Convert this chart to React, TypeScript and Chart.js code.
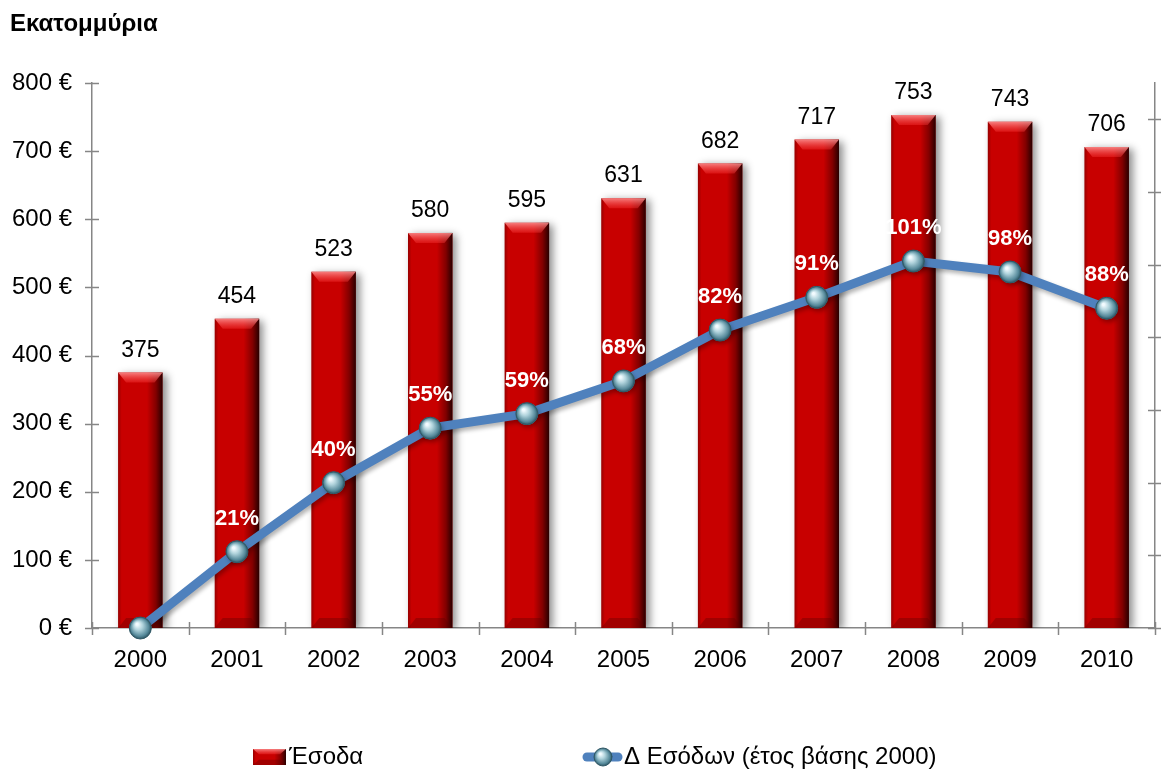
import React, { useEffect, useRef } from "react";
import { Chart, registerables } from "chart.js";

Chart.register(...registerables);

const years = ["2000", "2001", "2002", "2003", "2004", "2005", "2006", "2007", "2008", "2009", "2010"];
const revenue = [375, 454, 523, 580, 595, 631, 682, 717, 753, 743, 706];
const growthPct = [0, 21, 40, 55, 59, 68, 82, 91, 101, 98, 88];
const leftTicks = [0, 100, 200, 300, 400, 500, 600, 700, 800];
const titleText = "Εκατομμύρια";
const barLabel = "Έσοδα";
const lineLabel = "Δ Εσόδων (έτος βάσης 2000)";

const FONT = "'Liberation Sans', Arial, sans-serif";
const AXIS = "#868686";

function drawSphere(ctx: CanvasRenderingContext2D, x: number, y: number, r: number) {
  const g = ctx.createRadialGradient(x - r * 0.3, y - r * 0.35, r * 0.1, x, y, r);
  g.addColorStop(0, "#f2fbff");
  g.addColorStop(0.35, "#b0d3dc");
  g.addColorStop(0.8, "#55899a");
  g.addColorStop(1, "#2b5361");
  ctx.beginPath();
  ctx.arc(x, y, r, 0, Math.PI * 2);
  ctx.fillStyle = g;
  ctx.fill();
  ctx.lineWidth = 1;
  ctx.strokeStyle = "#2f5866";
  ctx.stroke();
}

function drawBarShape(ctx: CanvasRenderingContext2D, left: number, right: number, top: number, bottom: number) {
  const w = right - left;
  const g = ctx.createLinearGradient(left, 0, right, 0);
  g.addColorStop(0, "rgba(0,0,0,0.25)");
  g.addColorStop(0.08, "rgba(0,0,0,0)");
  g.addColorStop(0.65, "rgba(0,0,0,0)");
  g.addColorStop(0.85, "rgba(0,0,0,0.35)");
  g.addColorStop(1, "rgba(0,0,0,0.8)");
  ctx.fillStyle = g;
  ctx.fillRect(left, top, w, bottom - top);
  const bev = Math.min(10, (bottom - top) / 3);
  const inset = w * 0.18;
  ctx.beginPath();
  ctx.moveTo(left, top);
  ctx.lineTo(right, top);
  ctx.lineTo(right - inset, top + bev);
  ctx.lineTo(left + inset, top + bev);
  ctx.closePath();
  const tg = ctx.createLinearGradient(0, top, 0, top + bev);
  tg.addColorStop(0, "rgba(255,150,150,0.85)");
  tg.addColorStop(1, "rgba(255,60,60,0.35)");
  ctx.fillStyle = tg;
  ctx.fill();
  ctx.beginPath();
  ctx.moveTo(left, bottom);
  ctx.lineTo(right, bottom);
  ctx.lineTo(right - inset, bottom - bev);
  ctx.lineTo(left + inset, bottom - bev);
  ctx.closePath();
  ctx.fillStyle = "rgba(90,0,0,0.35)";
  ctx.fill();
}

const decorPlugin = {
  id: "decor",
  beforeDatasetDraw(chart: any, args: any) {
    const ctx = chart.ctx;
    ctx.save();
    if (args.index === 0) {
      ctx.shadowColor = "rgba(0,0,0,0.45)";
      ctx.shadowBlur = 8;
      ctx.shadowOffsetX = 4;
      ctx.shadowOffsetY = 2;
    } else {
      ctx.shadowColor = "rgba(0,0,0,0.3)";
      ctx.shadowBlur = 4;
      ctx.shadowOffsetX = 2;
      ctx.shadowOffsetY = 3;
    }
  },
  afterDatasetDraw(chart: any, args: any) {
    const ctx = chart.ctx;
    ctx.restore();
    ctx.save();
    if (args.index === 0) {
      args.meta.data.forEach((el: any) => {
        const p = el.getProps(["x", "y", "base", "width"], true);
        drawBarShape(ctx, p.x - p.width / 2, p.x + p.width / 2, p.y, p.base);
      });
    } else {
      args.meta.data.forEach((el: any) => {
        const p = el.getProps(["x", "y"], true);
        drawSphere(ctx, p.x, p.y, 11);
      });
    }
    ctx.restore();
  },
  afterDraw(chart: any) {
    const ctx = chart.ctx;
    const area = chart.chartArea;
    const ys = chart.scales.y;
    const y1 = chart.scales.y1;
    const xs = chart.scales.x;
    ctx.save();
    ctx.strokeStyle = AXIS;
    ctx.lineWidth = 1.5;
    ys.ticks.forEach((t: any) => {
      const py = Math.round(ys.getPixelForValue(t.value)) + 0.5;
      ctx.beginPath();
      ctx.moveTo(area.left - 7, py);
      ctx.lineTo(area.left + 7, py);
      ctx.stroke();
    });
    y1.ticks.forEach((t: any) => {
      if (t.value % 20 !== 0) return;
      const py = Math.round(y1.getPixelForValue(t.value)) + 0.5;
      ctx.beginPath();
      ctx.moveTo(area.right - 7, py);
      ctx.lineTo(area.right + 6, py);
      ctx.stroke();
    });
    const n = years.length;
    for (let i = 0; i <= n; i++) {
      let px: number;
      if (i === 0) px = xs.getPixelForValue(0) - (xs.getPixelForValue(1) - xs.getPixelForValue(0)) / 2;
      else if (i === n) px = xs.getPixelForValue(n - 1) + (xs.getPixelForValue(n - 1) - xs.getPixelForValue(n - 2)) / 2;
      else px = (xs.getPixelForValue(i - 1) + xs.getPixelForValue(i)) / 2;
      px = Math.round(px) + 0.5;
      ctx.beginPath();
      ctx.moveTo(px, area.bottom - 6);
      ctx.lineTo(px, area.bottom + 7);
      ctx.stroke();
    }

    const barMeta = chart.getDatasetMeta(0);
    ctx.fillStyle = "#000";
    ctx.font = `23px ${FONT}`;
    ctx.textAlign = "center";
    ctx.textBaseline = "middle";
    barMeta.data.forEach((el: any, i: number) => {
      const p = el.getProps(["x", "y"], true);
      ctx.fillText(String(revenue[i]), p.x, p.y - 22);
    });
    const lineMeta = chart.getDatasetMeta(1);
    ctx.fillStyle = "#fff";
    ctx.font = `bold 22px ${FONT}`;
    lineMeta.data.forEach((el: any, i: number) => {
      if (growthPct[i] === 0) return;
      const p = el.getProps(["x", "y"], true);
      ctx.fillText(`${growthPct[i]}%`, p.x, p.y - 33);
    });

    ctx.fillStyle = "#000";
    ctx.font = `bold 24px ${FONT}`;
    ctx.textAlign = "left";
    ctx.fillText(titleText, 10, 24);

    const ly = 757;
    ctx.save();
    ctx.fillStyle = "#c80000";
    ctx.fillRect(253, ly - 8, 33, 16);
    drawBarShape(ctx, 253, 286, ly - 8, ly + 8);
    ctx.restore();
    ctx.fillStyle = "#000";
    ctx.font = `24px ${FONT}`;
    ctx.textAlign = "left";
    ctx.fillText(barLabel, 289, ly);

    ctx.strokeStyle = "#4f81bd";
    ctx.lineWidth = 9;
    ctx.lineCap = "round";
    ctx.beginPath();
    ctx.moveTo(587, ly);
    ctx.lineTo(618, ly);
    ctx.stroke();
    drawSphere(ctx, 603, ly, 9);
    ctx.fillStyle = "#000";
    ctx.fillText(lineLabel, 624, ly);
    ctx.restore();
  },
};

export default function App() {
  const canvasRef = useRef<HTMLCanvasElement | null>(null);

  useEffect(() => {
    document.body.style.margin = "0";
    const canvas = canvasRef.current;
    if (!canvas) return;
    const chart = new Chart(canvas, {
      data: {
        labels: years,
        datasets: [
          {
            type: "bar",
            label: barLabel,
            data: revenue,
            backgroundColor: "#c80000",
            borderWidth: 0,
            categoryPercentage: 1,
            barPercentage: 0.46,
            yAxisID: "y",
            order: 1,
          },
          {
            type: "line",
            label: lineLabel,
            data: growthPct,
            borderColor: "#4f81bd",
            borderWidth: 9,
            tension: 0,
            pointRadius: 11,
            pointBackgroundColor: "#8fbccb",
            pointBorderWidth: 0,
            yAxisID: "y1",
            order: 0,
          },
        ],
      } as any,
      options: {
        animation: false,
        responsive: false,
        maintainAspectRatio: false,
        layout: { padding: { top: 83, left: 0, right: 0, bottom: 0 } },
        plugins: { legend: { display: false }, tooltip: { enabled: false }, title: { display: false } },
        scales: {
          x: {
            grid: { display: false, drawTicks: false },
            border: { display: true, color: AXIS, width: 1.5 },
            ticks: { color: "#000", font: { family: FONT, size: 24 }, padding: 18 },
            afterFit: (s: any) => {
              s.height = 143;
            },
          },
          y: {
            position: "left",
            min: 0,
            max: 800,
            afterBuildTicks: (s: any) => {
              s.ticks = leftTicks.map((v) => ({ value: v }));
            },
            grid: { display: false, drawTicks: false },
            border: { display: true, color: AXIS, width: 1.5 },
            ticks: {
              color: "#000",
              font: { family: FONT, size: 24 },
              padding: 20,
              callback: (v: any) => `${v} €`,
            },
            afterFit: (s: any) => {
              s.width = 92;
            },
          },
          y1: {
            position: "right",
            min: 0,
            max: 150,
            ticks: { display: false, stepSize: 20 },
            grid: { display: false, drawTicks: false },
            border: { display: true, color: AXIS, width: 1.5 },
            afterFit: (s: any) => {
              s.width = 9;
            },
          },
        },
      } as any,
      plugins: [decorPlugin],
    });
    return () => chart.destroy();
  }, []);

  return (
    <div style={{ width: 1166, height: 771 }}>
      <canvas ref={canvasRef} width={1166} height={771} style={{ display: "block" }} />
    </div>
  );
}
